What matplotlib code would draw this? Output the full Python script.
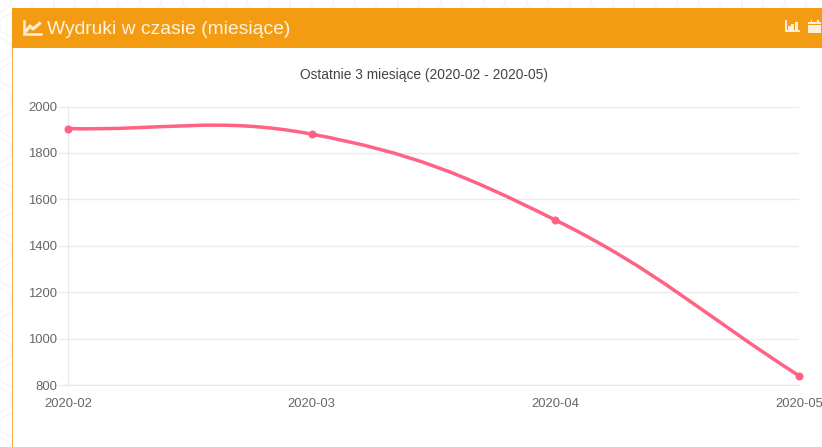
import matplotlib
matplotlib.use("Agg")
import matplotlib.pyplot as plt
from matplotlib.patches import Rectangle
from matplotlib.path import Path
from matplotlib.patches import PathPatch
import numpy as np

months = ["2020-02", "2020-03", "2020-04", "2020-05"]
prints = [1905, 1881, 1511, 840]
yticks = [800, 1000, 1200, 1400, 1600, 1800, 2000]

W, H = 822, 447
ORANGE = "#F39C12"
PINK = "#FF6384"
plt.rcParams["font.family"] = ["Liberation Sans", "DejaVu Sans"]

fig = plt.figure(figsize=(W / 100, H / 100), dpi=100)

# page layer in pixel coordinates (y going down like the screenshot)
bg = fig.add_axes([0, 0, 1, 1])
bg.set_xlim(0, W)
bg.set_ylim(H, 0)
bg.axis("off")

# faint hexagon wallpaper, only shows around the panel
hx, hy = 21.5, 25
for row in range(-1, 20):
    for col in range(-1, 40):
        cx = col * hx + (hx / 2 if row % 2 else 0)
        cy = row * hy
        pts = [(cx - hx / 2, cy - 6), (cx, cy - 12), (cx + hx / 2, cy - 6),
               (cx + hx / 2, cy + 6), (cx, cy + 12), (cx - hx / 2, cy + 6)]
        bg.plot(*zip(*(pts + pts[:1])), color="#f6f6f6", lw=1, zorder=0)

bg.add_patch(Rectangle((12, 47.5), W - 12, H - 47.5, fc="white", ec="none", zorder=1))
bg.add_patch(Rectangle((11.5, 47.5), 1.5, H - 47.5, fc="#F5B041", ec="none", zorder=2))
bg.add_patch(Rectangle((12, 8), W - 12, 39.5, fc=ORANGE, ec="none", zorder=2))

bg.text(47, 29.5, "Wydruki w czasie (miesiące)", color="#FDF3E1", fontsize=13.85,
        va="center", ha="left", zorder=3)
bg.text(424, 75, "Ostatnie 3 miesiące (2020-02 - 2020-05)", color="#444444", fontsize=9.95,
        va="center", ha="center", zorder=3)

# header icons
ic = "#FDF0DA"
bg.plot([23.5, 23.5, 41], [21, 34, 34], color=ic, lw=1.8, zorder=3, solid_joinstyle="miter")
bg.plot([26, 30, 33, 39.5], [31, 26, 29, 23.5], color=ic, lw=2.2, zorder=3)
bg.plot([785.5, 785.5, 799], [21, 31, 31], color=ic, lw=1.4, zorder=3)
for bx, bt in zip([787.5, 791, 794.5], [26, 24, 22]):
    bg.add_patch(Rectangle((bx, bt), 3, 30 - bt, fc=ic, ec="none", zorder=3))
bg.add_patch(Rectangle((808, 24.5), 13, 8.5, fc=ic, ec="none", zorder=3))
bg.add_patch(Rectangle((808, 21.5), 13, 2, fc=ic, ec="none", zorder=3))
for bx in (810.5, 817):
    bg.add_patch(Rectangle((bx, 20), 1.5, 2.5, fc=ic, ec="none", zorder=3))

# plot area
left, right, top, bottom = 68, 799, 106.5, 385
ax = fig.add_axes([left / W, 1 - bottom / H, (right - left) / W, (bottom - top) / H])
ax.patch.set_alpha(0)
x = np.arange(len(months))
ax.set_xlim(0, 3)
ax.set_ylim(800, 2000)
ax.set_xticks(x, months)
ax.set_yticks(yticks)
ax.grid(axis="y", color="#ebebeb", lw=1)
ax.set_axisbelow(True)
for s in ("top", "right"):
    ax.spines[s].set_visible(False)
for s in ("left", "bottom"):
    ax.spines[s].set_color("#e8e8e8")
ax.tick_params(axis="y", length=7.2, width=1, color="#ebebeb", labelcolor="#666666",
               labelsize=9.4, pad=0.7)
ax.tick_params(axis="x", length=0, labelcolor="#666666", labelsize=9.4, pad=9.2)

# curve smoothed the way the web chart does it, tension 0.4 between points
def spline_path(xs, ys, t=0.4):
    verts = [(xs[0], ys[0])]
    codes = [Path.MOVETO]
    n = len(xs)
    sx, sy = 731 / 3.0, 278.5 / 1200.0
    px = np.array(xs) * sx
    py = np.array(ys) * sy
    after, before = [], []
    for i in range(n):
        a = max(i - 1, 0)
        c = min(i + 1, n - 1)
        d1 = np.hypot(px[i] - px[a], py[i] - py[a])
        d2 = np.hypot(px[c] - px[i], py[c] - py[i])
        s = d1 + d2
        f1, f2 = t * d1 / s, t * d2 / s
        before.append((xs[i] - f1 * (xs[c] - xs[a]), ys[i] - f1 * (ys[c] - ys[a])))
        after.append((xs[i] + f2 * (xs[c] - xs[a]), ys[i] + f2 * (ys[c] - ys[a])))
    for i in range(n - 1):
        verts += [after[i], before[i + 1], (xs[i + 1], ys[i + 1])]
        codes += [Path.CURVE4] * 3
    return Path(verts, codes)

ax.add_patch(PathPatch(spline_path(x, prints), fc="none", ec=PINK, lw=2.5, clip_on=False, zorder=3))
ax.plot(x, prints, "o", color=PINK, ms=5.8, mew=0, clip_on=False, zorder=4)

fig.savefig("out.png", dpi=100)
